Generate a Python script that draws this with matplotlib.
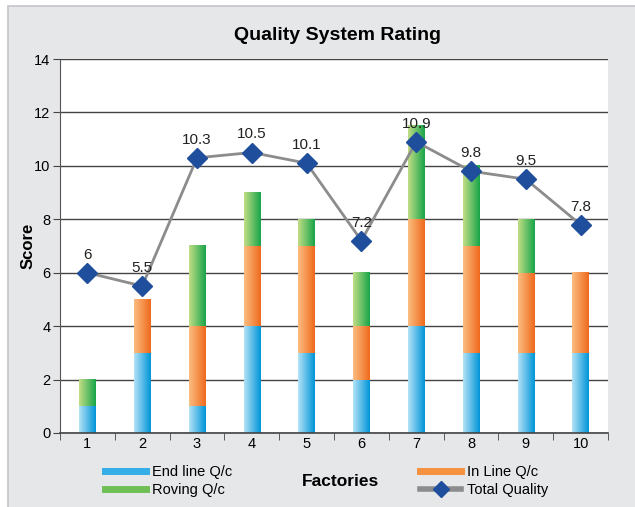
import numpy as np
import matplotlib
matplotlib.use("Agg")
import matplotlib.pyplot as plt
from matplotlib.patches import Rectangle
from matplotlib.lines import Line2D
from matplotlib.colors import to_rgb

plt.rcParams['font.family'] = ['Liberation Sans Narrow', 'Liberation Sans', 'DejaVu Sans']

factories = [1, 2, 3, 4, 5, 6, 7, 8, 9, 10]
end_line = [1, 3, 1, 4, 3, 2, 4, 3, 3, 3]
in_line = [0, 2, 3, 3, 4, 2, 4, 4, 3, 3]
roving = [1, 0, 3, 2, 1, 2, 3.5, 3, 2, 0]
total = [6, 5.5, 10.3, 10.5, 10.1, 7.2, 10.9, 9.8, 9.5, 7.8]

colors = {
    'End line Q/c': ('#b3e2f7', '#0095d8', '#33aee6'),
    'In Line Q/c': ('#fbbd80', '#ef6a1d', '#f5913f'),
    'Roving Q/c': ('#c2dd86', '#17a54a', '#6fbf55'),
}

fig = plt.figure(figsize=(6.35, 5.07), dpi=100, facecolor='white')
bg = Rectangle((8 / 635, -0.01), 1, 1.01 - 6 / 507, transform=fig.transFigure,
               facecolor='#e6e7e9', edgecolor='#c4c5c8', lw=1.2, zorder=-10)
fig.add_artist(bg)

ax = fig.add_axes([60 / 635, 1 - 433 / 507, 548 / 635, 374 / 507])
ax.set_facecolor('white')


def grad_bar(x, bottom, height, c1, c2, width=0.3):
    if height <= 0:
        return
    a, b = np.array(to_rgb(c1)), np.array(to_rgb(c2))
    t = np.linspace(0, 1, 64)[:, None]
    img = (a * (1 - t) + b * t)[None, :, :]
    ax.imshow(img, extent=[x - width / 2, x + width / 2, bottom, bottom + height],
              aspect='auto', interpolation='bilinear', zorder=2)


bottoms = np.zeros(len(factories))
for name, vals in [('End line Q/c', end_line), ('In Line Q/c', in_line), ('Roving Q/c', roving)]:
    c1, c2, _ = colors[name]
    for x, b, v in zip(factories, bottoms, vals):
        grad_bar(x, b, v, c1, c2)
    bottoms += np.array(vals)

ax.plot(factories, total, color='#8c8c8c', lw=2, marker='D', markersize=10,
        markerfacecolor='#1f4e9c', markeredgecolor='#1f4e9c', zorder=4)
for x, v in zip(factories, total):
    ax.annotate(f'{v:g}', (x, v), xytext=(0, 8), textcoords='offset points',
                ha='center', va='bottom', fontsize=11, color='#222222', zorder=5)

ax.set_xlim(0.5, 10.5)
ax.set_ylim(0, 14)
ax.set_yticks(range(0, 15, 2))
ax.yaxis.grid(True, color='#444444', lw=1)
ax.set_axisbelow(True)
ax.set_xticks(factories)
ax.set_xticks(np.arange(0.5, 11, 1), minor=True)
ax.tick_params(axis='x', which='major', length=0, labelsize=10.5, pad=3)
ax.tick_params(axis='x', which='minor', length=5, color='#444444', direction='out')
ax.tick_params(axis='y', length=5, color='#444444', labelsize=10.5, pad=2)
for s in ['top', 'right']:
    ax.spines[s].set_visible(False)
ax.spines['left'].set_color('#555555')
ax.spines['bottom'].set_color('#444444')
ax.spines['bottom'].set_linewidth(1.2)

ax.set_ylabel('Score', fontsize=12, fontweight='bold')
ax.yaxis.set_label_coords(-(60 - 36) / 548, 0.5)
fig.text(340 / 635, 1 - 481 / 507, 'Factories', fontsize=12.5, fontweight='bold',
         ha='center', va='center')
fig.text(337 / 635, 1 - 36 / 507, 'Quality System Rating', fontsize=14, fontweight='bold',
         ha='center', va='center')

h_end = Line2D([], [], color=colors['End line Q/c'][2], lw=5)
h_rov = Line2D([], [], color=colors['Roving Q/c'][2], lw=5)
h_in = Line2D([], [], color=colors['In Line Q/c'][2], lw=5)
h_tot = Line2D([], [], color='#8c8c8c', lw=4, marker='D', markersize=8,
               markerfacecolor='#1f4e9c', markeredgecolor='#1f4e9c')

leg1 = fig.legend([h_end, h_rov], ['End line Q/c', 'Roving Q/c'], loc='center left',
                  bbox_to_anchor=(92 / 635, 1 - 481 / 507), frameon=False, fontsize=10.5,
                  handlelength=2.8, handletextpad=0.4, labelspacing=0.3)
leg2 = fig.legend([h_in, h_tot], ['In Line Q/c', 'Total Quality'], loc='center left',
                  bbox_to_anchor=(407 / 635, 1 - 481 / 507), frameon=False, fontsize=10.5,
                  handlelength=2.8, handletextpad=0.4, labelspacing=0.3)

fig.savefig('out.png', dpi=100, facecolor=fig.get_facecolor())
